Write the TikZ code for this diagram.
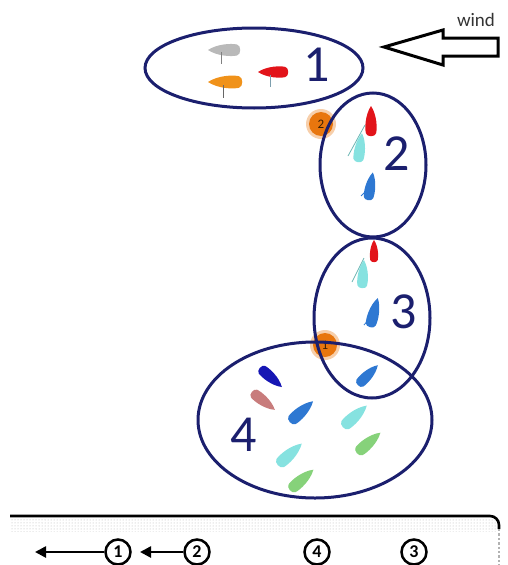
\documentclass[tikz,border=0pt]{standalone}
\usepackage{fontspec}
\setmainfont{Carlito}
\usetikzlibrary{patterns,arrows.meta}
\definecolor{navy}{HTML}{1B1F6E}
\definecolor{boatblue}{HTML}{2E78D2}
\definecolor{boatcyan}{HTML}{86E2E0}
\definecolor{boatgreen}{HTML}{86D27A}
\definecolor{boatred}{HTML}{E2141A}
\definecolor{boatorange}{HTML}{F0921A}
\definecolor{boatdark}{HTML}{1616B4}
\definecolor{boatpink}{HTML}{C87C7C}
\definecolor{buoyorange}{HTML}{E8760E}
% hull: colour, stern x, stern y, heading (deg), length
\newcommand\boathull[5]{%
  \fill[#1, shift={(#2,#3)}, rotate=#4, scale=#5]
    (1,0) .. controls (0.7,0.2) and (0.25,0.21) .. (0.09,0.17)
    .. controls (-0.04,0.14) and (-0.04,-0.14) .. (0.09,-0.17)
    .. controls (0.25,-0.21) and (0.7,-0.2) .. (1,0) -- cycle;}
\tikzset{
  zone/.style={draw=navy, line width=3pt},
  zonelabel/.style={text=navy, font=\fontsize{52}{52}\selectfont, inner sep=0pt},
  mastline/.style={line width=0.8pt},
  buoy/.style={circle, fill=buoyorange, minimum size=24pt, inner sep=0pt,
    font=\fontsize{13}{13}\selectfont, text=black!75!buoyorange},
  halo/.style={circle, fill=buoyorange!35, minimum size=30pt, inner sep=0pt},
  finishmark/.style={circle, draw, line width=2.5pt, minimum size=25pt, inner sep=0pt,
    font=\bfseries\fontsize{18}{18}\selectfont},
  finarrow/.style={line width=2.5pt, -{Triangle[length=11pt,width=11pt]}},
}
\begin{document}
\begin{tikzpicture}[x=1pt,y=-1pt]
\useasboundingbox (0,0) rectangle (507,565);

% wind
\draw[line width=3pt, line join=miter]
  (384,47) -- (443,30) -- (443,38) -- (498,38) -- (498,56) -- (443,56) -- (443,65) -- cycle;
\node[font=\fontsize{19}{19}\selectfont, text=black!80, inner sep=0pt] (wind) at (476,20) {wind};

% marks
\node[halo] at (321,124) {};
\node[halo] at (325,345) {};
\node[buoy] (b2) at (321,124) {2};
\node[buoy] (b1) at (325,345) {1};

% group 1
\boathull{gray!55}{240}{50}{180}{32}
\draw[mastline, gray] (221,52) -- (221,64);
\boathull{boatorange}{242}{82}{180}{34}
\draw[mastline, black!60] (223,85) -- (223,98);
\boathull{boatred}{288}{72}{180}{30}
\draw[mastline, gray!70!cyan] (270,75) -- (270,87);

% group 2
\boathull{boatred}{371}{136}{90}{30}
\draw[mastline, boatcyan!80!black] (365,125) -- (348,156);
\boathull{boatcyan}{358}{162}{82}{29}
\boathull{boatblue}{368}{200}{80}{28}
\draw[mastline, boatblue] (367,190) -- (361,196);

% group 3
\boathull{boatred}{374}{262}{90}{22}
\draw[mastline, boatcyan!80!black] (364,258) -- (352,282);
\boathull{boatcyan}{362}{288}{86}{28}
\boathull{boatblue}{370}{327}{75}{30}
\draw[mastline, boatblue] (370,318) -- (364,325);
\boathull{boatblue}{358}{385}{45}{28}

% group 4
\boathull{boatdark}{260}{368}{-41}{29}
\boathull{boatpink}{252}{392}{-38}{29}
\boathull{boatblue}{290}{422}{42}{31}
\boathull{boatcyan}{343}{427}{42}{32}
\boathull{boatcyan}{278}{465}{42}{32}
\boathull{boatgreen}{357}{453}{41}{31}
\boathull{boatgreen}{290}{490}{41}{31}

% zones
\draw[zone] (254,68) ellipse [x radius=109, y radius=40];
\draw[zone] (373,165) ellipse [x radius=53, y radius=72];
\draw[zone] (372,318) ellipse [x radius=58, y radius=80];
\draw[zone] (315,420) ellipse [x radius=117, y radius=78];
\node[zonelabel] (z1) at (317,65) {1};
\node[zonelabel] (z2) at (397,154) {2};
\node[zonelabel] (z3) at (404,312) {3};
\node[zonelabel] (z4) at (244,435) {4};

% finish line
\fill[pattern=dots, pattern color=gray!60] (10,518) rectangle (497,531);
\draw[line width=2.6pt, rounded corners=9] (10,516) -- (499,516) -- (499,529);
\draw[gray!60, dotted, line width=2.4pt] (499,529) -- (499,565);

\node[finishmark] (f1) at (118,552) {1};
\node[finishmark] (f2) at (197,552) {2};
\node[finishmark] (f4) at (317,552) {4};
\node[finishmark] (f3) at (414,552) {3};
\coordinate (e1) at (35,552);
\coordinate (e2) at (140,552);
\draw[finarrow] (f1) -- (e1);
\draw[finarrow] (f2) -- (e2);
\end{tikzpicture}
\end{document}
